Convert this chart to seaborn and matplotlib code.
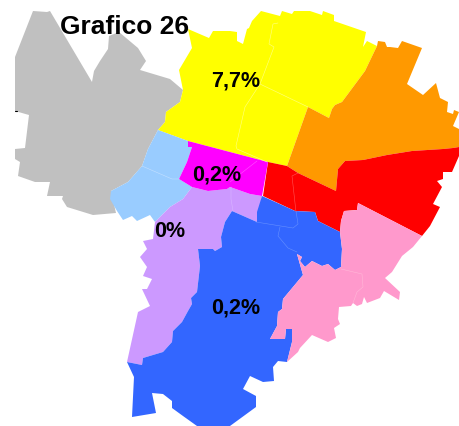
import pandas as pd
import seaborn as sns
import matplotlib.pyplot as plt

# outlines, in image pixels
grey = [(33,12),(47,13),(50,12),(92,83),(94,72),(100,62),(108,50),(109,37),(119,33),(138,49),(146,62),(140,71),
        (170,80),(183,91),(180,103),(166,113),(165,123),(158,131),(148,150),(142,167),(128,183),(111,192),(116,214),
        (93,216),(67,208),(62,200),(63,197),(47,197),(50,183),(35,183),(18,177),(20,163),(15,160),(15,150),(25,149),
        (29,116),(15,112),(15,58)]
yellow = [(188,30),(209,39),(213,32),(230,32),(237,33),(237,42),(243,45),(247,30),(249,29),(252,22),(261,12),(280,17),
          (282,12),(292,15),(294,12),(310,12),(322,16),(323,12),(334,16),(334,22),(366,33),(363,48),(367,42),(377,47),
          (365,72),(342,103),(335,106),(332,110),(329,119),(308,108),(287,167),(268,163),(188,142),(158,131),(165,123),
          (166,113),(180,103),(183,91),(179,71),(192,49)]
orange = [(287,167),(298,174),(336,192),(338,170),(345,162),(363,161),(387,156),(412,152),(443,150),(453,149),(459,148),
          (459,130),(453,127),(459,113),(454,111),(453,115),(447,113),(448,103),(440,99),(436,84),(423,96),(407,85),
          (422,49),(402,42),(398,49),(390,48),(387,48),(385,43),(378,42),(377,47),(365,72),(342,103),(335,106),(332,110),
          (329,119),(308,108)]
red = [(268,163),(287,167),(298,174),(336,192),(338,170),(345,162),(363,161),(387,156),(412,152),(443,150),(453,149),
       (459,148),(459,157),(452,173),(443,173),(443,180),(437,182),(442,188),(433,205),(440,208),(430,227),(422,237),
       (358,204),(357,211),(344,212),(341,222),(340,233),(318,222),(315,213),(295,212),(263,197)]
magenta = [(188,142),(268,163),(262,197),(250,195),(230,188),(227,190),(208,192),(192,188),(179,180),(187,163),(192,148),
           (188,148)]
light_blue = [(158,131),(188,142),(188,148),(192,148),(187,163),(179,180),(192,188),(183,200),(170,208),(155,223),
              (150,216),(137,222),(132,217),(123,221),(117,212),(110,200),(111,192),(128,183),(142,167),(148,150)]
lilac_blue_edge = [(127,363),(142,366),(143,359),(163,353),(172,343),(173,332),(182,323),(188,312),(192,305),(191,299),
                   (197,293),(200,267),(198,250),(213,250),(215,252),(222,248),(221,238),(225,223),(232,212),(257,223)]
lilac = lilac_blue_edge + [(262,197),(250,195),(230,188),(227,190),(208,192),(192,188),(183,200),(170,208),(155,223),
                           (153,240),(143,242),(147,250),(140,258),(147,268),(143,277),(152,280),(147,290),(142,290),
                           (150,307),(138,313)]
blue = lilac_blue_edge + [(257,213),(262,197),(295,212),(315,213),(318,222),(340,233),(342,250),(341,268),(335,271),
                          (328,265),(322,267),(312,262),(305,268),(300,262),(302,258),(297,255),(303,276),(283,300),
                          (282,310),(278,313),(277,327),(270,340),(285,340),(286,330),(292,330),(292,343),(287,363),
                          (278,362),(273,368),(274,382),(263,383),(250,377),(243,390),(256,397),(256,408),(230,427),
                          (197,427),(183,417),(172,409),(172,402),(163,395),(152,394),(156,414),(132,418),(134,378)]
pink = [(358,204),(422,237),(413,248),(402,257),(392,273),(385,279),(400,293),(399,301),(384,292),(380,299),(367,304),
        (364,298),(362,305),(357,307),(353,304),(351,307),(339,308),(338,320),(340,325),(334,329),(336,339),(328,343),
        (312,336),(300,349),(298,353),(287,363),(292,343),(292,330),(286,330),(285,340),(270,340),(277,327),(278,313),
        (282,310),(283,300),(303,276),(297,255),(302,258),(300,262),(305,268),(312,262),(322,267),(328,265),(335,271),
        (341,268),(342,250),(340,233),(341,222),(344,212),(357,211)]

zones = [grey, yellow, orange, red, light_blue, lilac, magenta, blue, pink]
zone_colors = ['#C0C0C0', '#FFFF00', '#FF9900', '#FF0000', '#99CCFF', '#CC99FF', '#FF00FF', '#3366FF', '#FF99CC']

# faint borders between sub areas
borders = [
    ([(278,24),(273,25),(269,45),(274,48),(260,85),(245,108),(236,147),(237,150),(267,163)], '#FFFF88'),
    ([(260,85),(308,108)], '#FFFF88'),
    ([(142,167),(172,180),(179,180)], '#C4E0FF'),
    ([(257,162),(230,183)], '#FF55FF'),
    ([(231,188),(231,200),(233,212)], '#D8B4FF'),
    ([(298,174),(292,177),(296,213)], '#FF5555'),
    ([(256,223),(293,229),(298,225),(296,212)], '#6690FF'),
    ([(280,228),(278,237),(288,249),(297,253)], '#6690FF'),
    ([(341,270),(362,275),(363,288),(357,293),(353,304)], '#FFB8D8'),
]

labels = ['7,7%', '0,2%', '0%', '0,2%']
label_x = [236, 217, 170, 236]
label_y = [81, 175, 232, 308]

sns.set_style("white")
plt.rcParams['font.family'] = ['Liberation Sans', 'DejaVu Sans']

fig = plt.figure(figsize=(4.59, 4.27), dpi=100)
ax = fig.add_axes([0, 0, 1, 1])

for zone, color in zip(zones, zone_colors):
    xs, ys = zip(*zone)
    ax.fill(xs, ys, color=color, linewidth=0)

for line, color in borders:
    df = pd.DataFrame(line, columns=['x', 'y'])
    sns.lineplot(data=df, x='x', y='y', sort=False, estimator=None, color=color, linewidth=0.4, ax=ax)

ax.plot([15, 17], [112, 112], color='black', linewidth=0.8)

for text, x, y in zip(labels, label_x, label_y):
    ax.text(x, y, text, fontsize=15.5, fontweight='bold', ha='center', va='center', color='black')
ax.text(125, 27, 'Grafico 26', fontsize=19, fontweight='bold', ha='center', va='center', color='black')

ax.set_xlim(0, 459)
ax.set_ylim(427, 0)
ax.axis('off')

plt.savefig('out.png', dpi=100)
